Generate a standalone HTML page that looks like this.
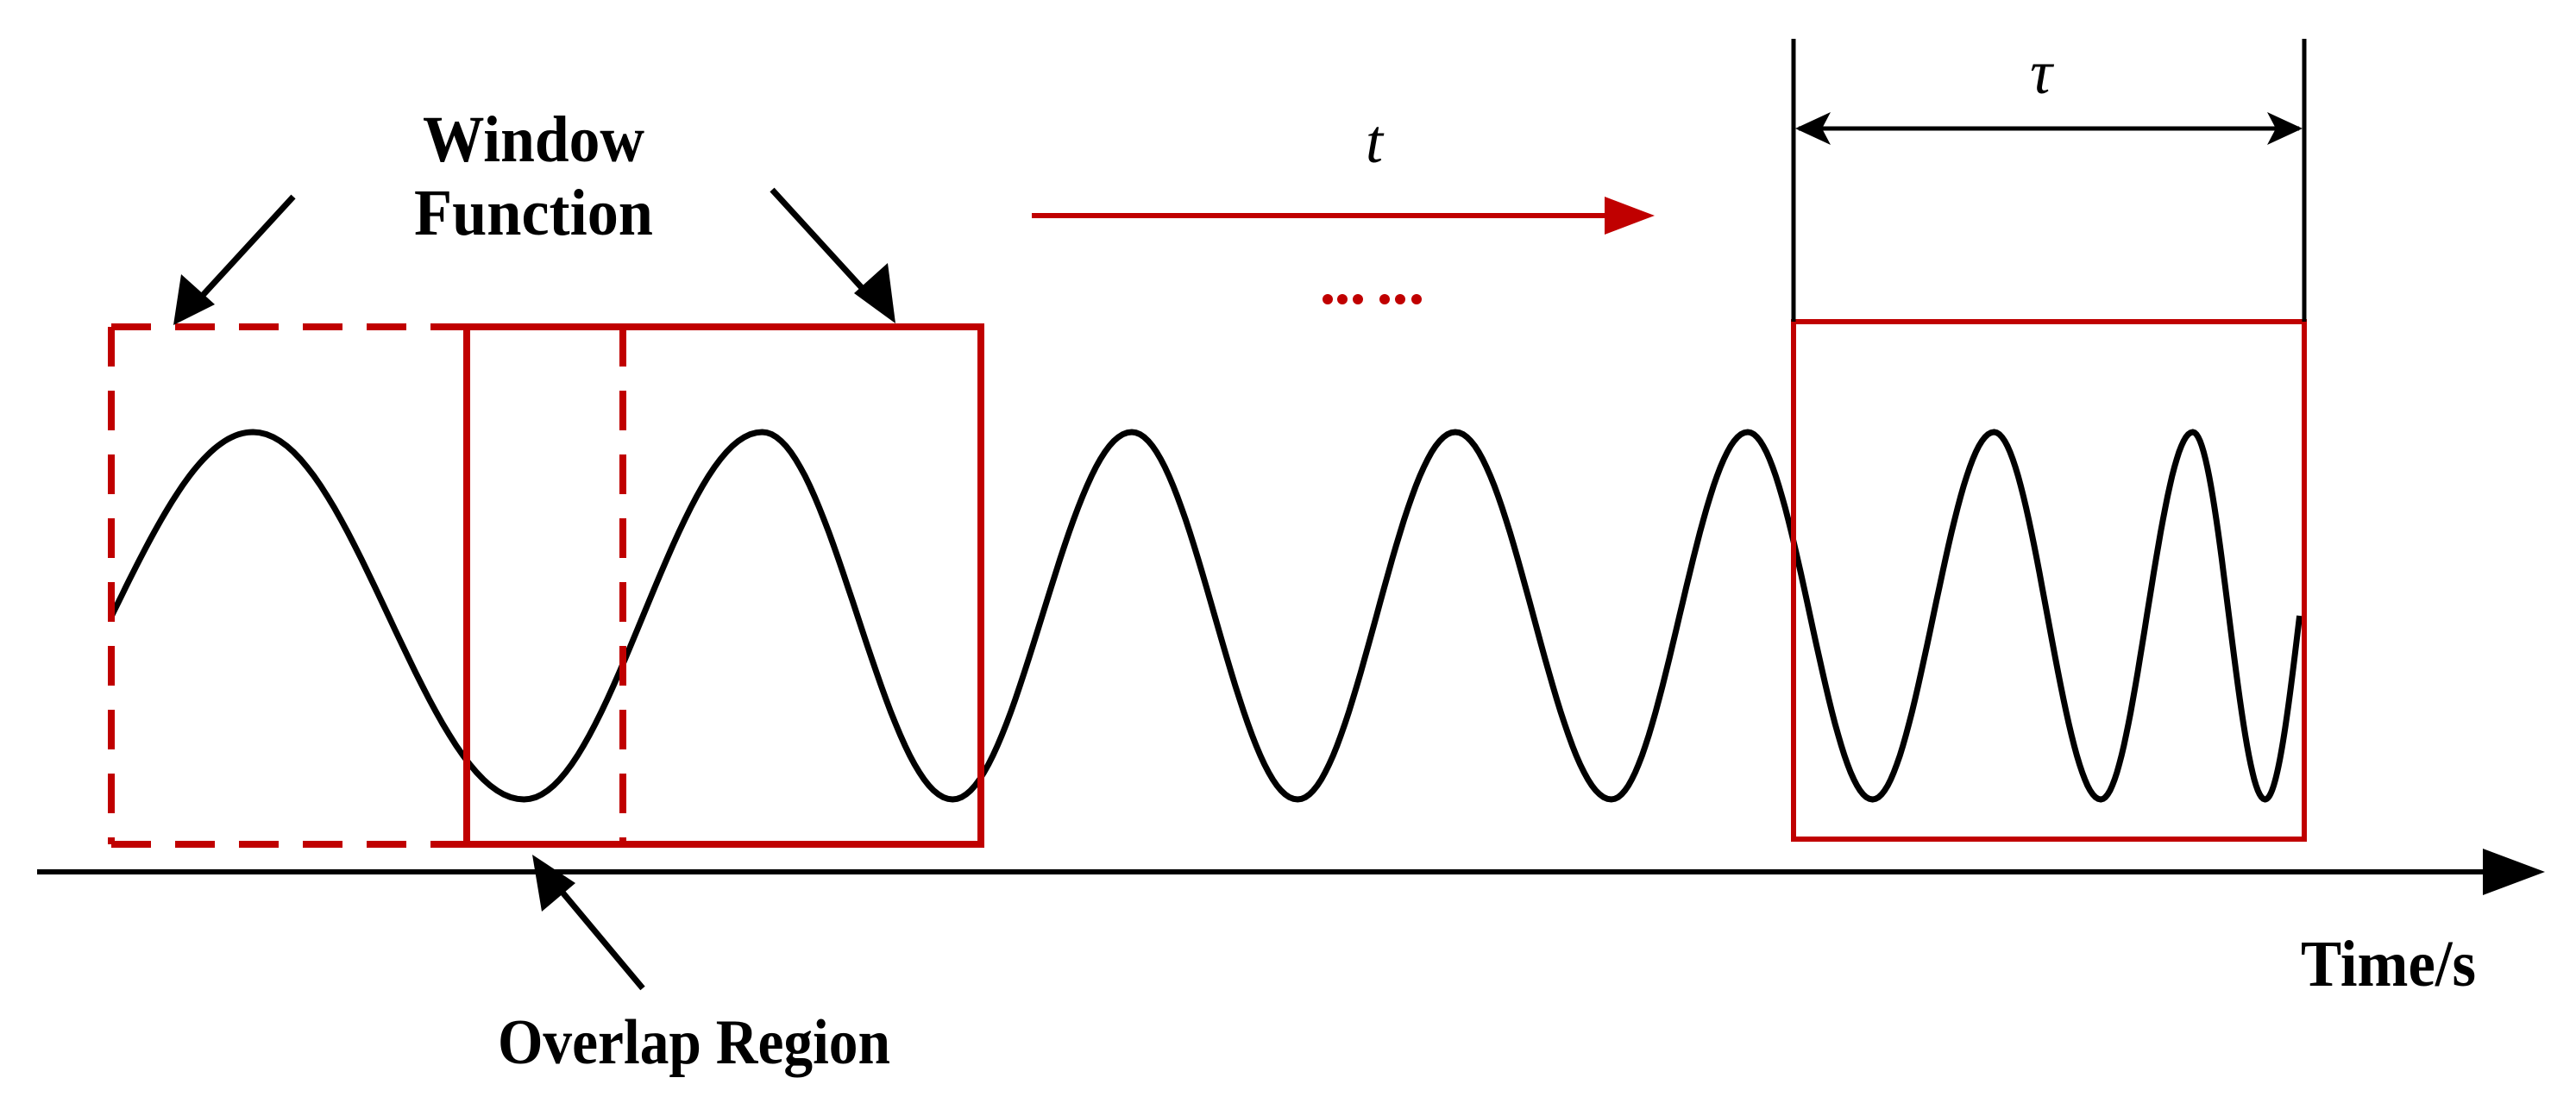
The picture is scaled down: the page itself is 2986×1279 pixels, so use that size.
<!DOCTYPE html>
<html><head><meta charset="utf-8"><style>
html,body{margin:0;padding:0;background:#fff;}
svg{display:block;}
.lbl{font-family:"Liberation Serif",serif;font-weight:bold;fill:#000;}
</style></head><body>
<svg id="s" width="2986" height="1279" viewBox="0 0 2986 1279" xmlns="http://www.w3.org/2000/svg">
<!-- axis -->
<line x1="43" y1="1011" x2="2890" y2="1011" stroke="#000" stroke-width="6"/>
<polygon points="2950,1011 2878,984 2878,1038" fill="#000"/>
<text class="lbl" x="2667" y="1143" font-size="76" textLength="203" lengthAdjust="spacingAndGlyphs">Time/s</text>
<!-- wave -->
<path id="w" fill="none" stroke="#000" stroke-width="7" d=""/>
<!-- left dashed window -->
<g stroke="#c00000" stroke-width="8" fill="none">
<path d="M129,379 H541 M129,979 H541 M129,379 V979 M722,379 V979" stroke-dasharray="46,28"/>
<rect x="541" y="379" width="596" height="600"/>
<rect x="2079" y="373" width="592" height="600" stroke-width="6"/>
</g>
<!-- tau dimension -->
<line x1="2079" y1="45" x2="2079" y2="373" stroke="#000" stroke-width="5"/>
<line x1="2671" y1="45" x2="2671" y2="373" stroke="#000" stroke-width="5"/>
<line x1="2085" y1="149" x2="2665" y2="149" stroke="#000" stroke-width="5"/>
<polygon points="2081,149 2122,130 2112,149 2122,168" fill="#000"/>
<polygon points="2669,149 2628,130 2638,149 2628,168" fill="#000"/>
<text x="2366" y="108" font-family="Liberation Serif,serif" font-style="italic" font-size="72" text-anchor="middle">τ</text>
<!-- t arrow -->
<text x="1593" y="188" font-family="Liberation Serif,serif" font-style="italic" font-size="72" text-anchor="middle">t</text>
<line x1="1196" y1="250" x2="1870" y2="250" stroke="#c00000" stroke-width="6"/>
<polygon points="1918,250 1860,228 1860,272" fill="#c00000"/>
<g fill="#c00000">
<circle cx="1539" cy="347" r="6"/><circle cx="1556" cy="347" r="6"/><circle cx="1574" cy="347" r="6"/>
<circle cx="1605" cy="347" r="6"/><circle cx="1623" cy="347" r="6"/><circle cx="1642" cy="347" r="6"/>
</g>
<!-- labels & black arrows -->
<text class="lbl" x="490" y="187" font-size="76" textLength="257" lengthAdjust="spacingAndGlyphs">Window</text>
<text class="lbl" x="480" y="272" font-size="76" textLength="277" lengthAdjust="spacingAndGlyphs">Function</text>
<text class="lbl" x="577" y="1233" font-size="74" textLength="455" lengthAdjust="spacingAndGlyphs">Overlap Region</text>
<g stroke="#000" stroke-width="7">
<line x1="340" y1="228" x2="228" y2="350"/>
<line x1="895" y1="220" x2="1012" y2="348"/>
<line x1="745" y1="1146" x2="638" y2="1018"/>
</g>
<polygon points="201,377 210,318 249,353" fill="#000"/>
<polygon points="1038,375 990,340 1029,305" fill="#000"/>
<polygon points="617,991 667,1024 628,1057" fill="#000"/>
</svg>
<script>
var ex=[[68,0],[154,1],[319,-1],[464,1],[580,-1],[689,1],[790,-1],[886,1],[981,-1],[1064,1],[1140,-1],[1214,1],[1279,-1],[1335,1],[1379,-1],[1400,0]];
var k=1.904,c=714,A=213,d="";
for(var i=0;i<ex.length-1;i++){
 var x0=ex[i][0]*k,x1=ex[i+1][0]*k,v0=ex[i][1],v1=ex[i+1][1];
 for(var j=0;j<=40;j++){
  var t=j/40,v;
  if(v0==0){v=v1*Math.sin(t*Math.PI/2);}
  else if(v1==0){v=v0*Math.cos(t*Math.PI/2);}
  else{v=v0*Math.cos(t*Math.PI);}
  var x=x0+(x1-x0)*t,y=c-A*v;
  d+=(d?"L":"M")+x.toFixed(1)+","+y.toFixed(1);
 }
}
document.getElementById("w").setAttribute("d",d);
</script>
</body></html>
